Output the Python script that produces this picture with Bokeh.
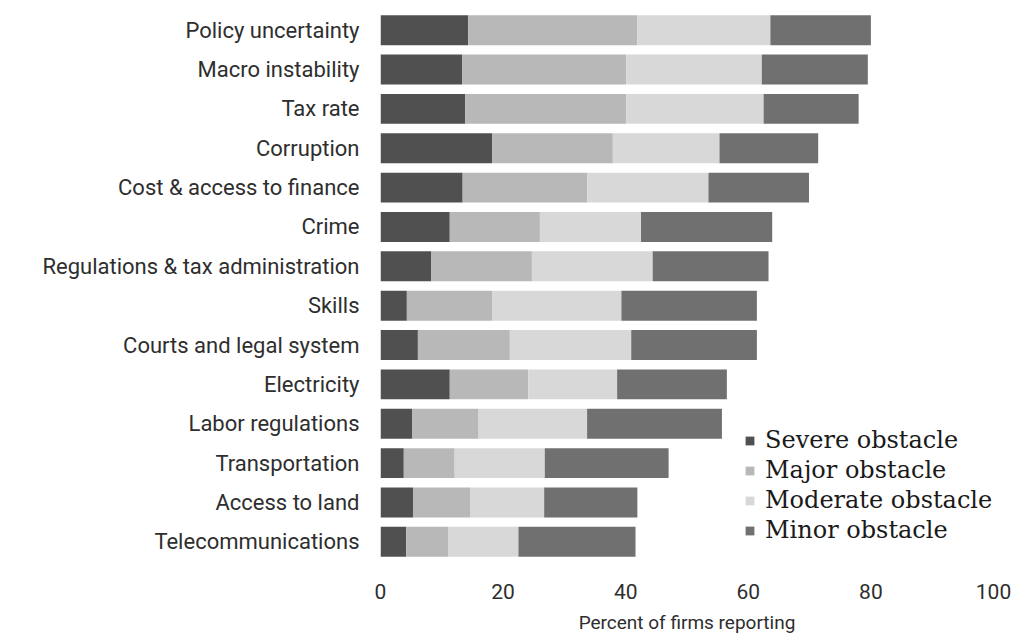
from bokeh.plotting import figure
from bokeh.models import FactorRange, Range1d, FixedTicker, Legend
from bokeh.embed import file_html
from bokeh.resources import INLINE

categories = ["Policy uncertainty", "Macro instability", "Tax rate", "Corruption",
              "Cost & access to finance", "Crime", "Regulations & tax administration",
              "Skills", "Courts and legal system", "Electricity", "Labor regulations",
              "Transportation", "Access to land", "Telecommunications"]
severe   = [14.3, 13.3, 13.8, 18.2, 13.4, 11.3, 8.3, 4.3, 6.1, 11.3, 5.2, 3.8, 5.3, 4.2]
major    = [27.6, 26.8, 26.3, 19.7, 20.3, 14.7, 16.4, 13.9, 15.0, 12.8, 10.8, 8.3, 9.3, 6.9]
moderate = [21.7, 22.1, 22.4, 17.4, 19.8, 16.5, 19.7, 21.1, 19.8, 14.5, 17.7, 14.7, 12.1, 11.4]
minor    = [16.4, 17.3, 15.5, 16.1, 16.4, 21.4, 18.9, 22.1, 20.5, 17.9, 22.0, 20.2, 15.2, 19.1]
series = ["Severe obstacle", "Major obstacle", "Moderate obstacle", "Minor obstacle"]
colors = ["#505050", "#b8b8b8", "#d8d8d8", "#707070"]
x_ticks = [0, 20, 40, 60, 80, 100]

data = {"cat": categories, "s0": severe, "s1": major, "s2": moderate, "s3": minor}

p = figure(width=1014, height=637, y_range=FactorRange(*list(reversed(categories)), range_padding=0),
           x_range=Range1d(0, 100), output_backend="svg", toolbar_location=None,
           min_border_left=380, min_border_right=21, min_border_top=10, min_border_bottom=76)
renderers = p.hbar_stack(["s0", "s1", "s2", "s3"], y="cat", height=0.76, color=colors,
                         source=data, line_color=None)

p.outline_line_color = None
p.grid.grid_line_color = None
p.background_fill_color = "white"
p.border_fill_color = "white"

p.xaxis.ticker = FixedTicker(ticks=x_ticks)
p.xaxis.axis_line_color = None
p.xaxis.major_tick_line_color = None
p.xaxis.minor_tick_line_color = None
p.xaxis.major_label_text_font = "Roboto"
p.xaxis.major_label_text_font_size = "21px"
p.xaxis.major_label_text_color = "#2e2e2e"
p.xaxis.major_label_standoff = 16
p.xaxis.axis_label = "Percent of firms reporting"
p.xaxis.axis_label_text_font = "Roboto"
p.xaxis.axis_label_text_font_style = "normal"
p.xaxis.axis_label_text_font_size = "19px"
p.xaxis.axis_label_text_color = "#2e2e2e"
p.xaxis.axis_label_standoff = 9

p.yaxis.axis_line_color = None
p.yaxis.major_tick_line_color = None
p.yaxis.minor_tick_line_color = None
p.yaxis.major_label_text_font = "Roboto"
p.yaxis.major_label_text_font_size = "22px"
p.yaxis.major_label_text_color = "#2e2e2e"
p.yaxis.major_label_standoff = 15

legend = Legend(items=[(s, [r]) for s, r in zip(series, renderers)],
                location=(364, 16), orientation="vertical")
legend.label_text_font = "DejaVu Serif"
legend.label_text_font_size = "24px"
legend.label_text_color = "#1a1a1a"
legend.glyph_width = 11
legend.glyph_height = 11
legend.label_height = 30
legend.spacing = 0
legend.padding = 0
legend.margin = 0
legend.label_standoff = 10
legend.border_line_color = None
legend.background_fill_alpha = 0
p.add_layout(legend)

open("out.html", "w").write(file_html(p, INLINE))
